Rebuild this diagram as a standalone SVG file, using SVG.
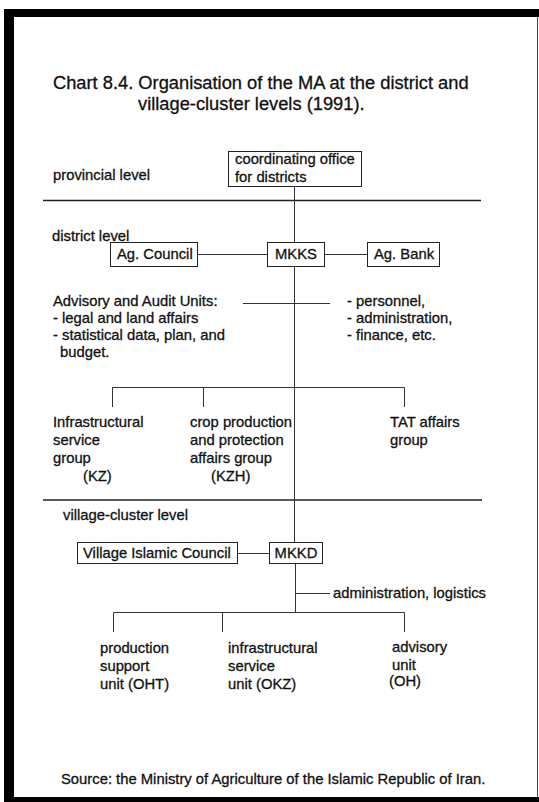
<svg xmlns="http://www.w3.org/2000/svg" width="539" height="802" viewBox="0 0 539 802">
  <style>
    text { font-family: "Liberation Sans", Arial, sans-serif; font-size: 14.8px; fill: #111; stroke: #111; stroke-width: 0.3; }
    .title { font-size: 18.3px; }
    .box { fill: #fff; stroke: #222; stroke-width: 1; }
    .conn { fill: none; stroke: #333; stroke-width: 1; }
    .level { fill: none; stroke: #222; stroke-width: 1.4; }
    .frame { fill: #000; }
  </style>

  <!-- page frame -->
  <rect x="0" y="0" width="539" height="802" fill="#fff"/>
  <g id="frame">
    <rect class="frame" x="4" y="9" width="535" height="8"/>
    <rect class="frame" x="4" y="9" width="10" height="793"/>
    <rect class="frame" x="14" y="797" width="525" height="5"/>
    <line x1="537.5" y1="17" x2="537.5" y2="797" stroke="#444" stroke-width="1"/>
  </g>

  <!-- heading -->
  <g id="title">
    <text class="title" x="53" y="89">Chart 8.4. Organisation of the MA at the district and</text>
    <text class="title" x="138" y="110">village-cluster levels (1991).</text>
  </g>

  <!-- level labels and separators -->
  <g id="levels">
    <text x="53" y="180">provincial level</text>
    <text x="52" y="241">district level</text>
    <text x="63" y="520">village-cluster level</text>
    <line class="level" x1="43" y1="200.5" x2="481" y2="200.5"/>
    <line class="level" x1="43" y1="500" x2="482" y2="500"/>
  </g>

  <!-- connectors -->
  <g id="connectors">
    <!-- coordinating office down to MKKS, on through to MKKD -->
    <line class="conn" x1="294.5" y1="187" x2="294.5" y2="242"/>
    <line class="conn" x1="294.5" y1="267" x2="294.5" y2="542"/>
    <!-- MKKS side links -->
    <line class="conn" x1="198" y1="254.5" x2="267" y2="254.5"/>
    <line class="conn" x1="325" y1="254.5" x2="367" y2="254.5"/>
    <!-- advisory and audit units -->
    <line class="conn" x1="243" y1="303.5" x2="330" y2="303.5"/>
    <!-- district groups branch -->
    <polyline class="conn" points="112.5,407 112.5,387.5 404.5,387.5 404.5,407"/>
    <line class="conn" x1="203.5" y1="387.5" x2="203.5" y2="407"/>
    <!-- village level -->
    <line class="conn" x1="238" y1="553.5" x2="269" y2="553.5"/>
    <line class="conn" x1="295.5" y1="564" x2="295.5" y2="612.5"/>
    <line class="conn" x1="295.5" y1="593.5" x2="330" y2="593.5"/>
    <polyline class="conn" points="113.5,632 113.5,612.5 404.5,612.5 404.5,632"/>
    <line class="conn" x1="222.5" y1="612.5" x2="222.5" y2="632"/>
  </g>

  <!-- provincial level -->
  <g id="coordinating-office">
    <rect class="box" x="228.5" y="151.5" width="133" height="35"/>
    <text x="235" y="164">coordinating office</text>
    <text x="235" y="182">for districts</text>
  </g>

  <!-- district level -->
  <g id="ag-council">
    <rect class="box" x="110.5" y="242.5" width="87" height="24"/>
    <text x="117" y="259">Ag. Council</text>
  </g>
  <g id="mkks">
    <rect class="box" x="267.5" y="242.5" width="57" height="24"/>
    <text x="296" y="259" text-anchor="middle">MKKS</text>
  </g>
  <g id="ag-bank">
    <rect class="box" x="367.5" y="242.5" width="72" height="24"/>
    <text x="374" y="259">Ag. Bank</text>
  </g>
  <g id="advisory-audit">
    <text x="53" y="306">Advisory and Audit Units:</text>
    <text x="53" y="323">- legal and land affairs</text>
    <text x="53" y="340">- statistical data, plan, and</text>
    <text x="60" y="357">budget.</text>
  </g>
  <g id="support-services">
    <text x="347" y="306">- personnel,</text>
    <text x="347" y="323">- administration,</text>
    <text x="347" y="340">- finance, etc.</text>
  </g>
  <g id="kz">
    <text x="53" y="427">Infrastructural</text>
    <text x="53" y="445">service</text>
    <text x="53" y="463">group</text>
    <text x="83" y="481">(KZ)</text>
  </g>
  <g id="kzh">
    <text x="190" y="427">crop production</text>
    <text x="190" y="445">and protection</text>
    <text x="190" y="463">affairs group</text>
    <text x="211" y="481">(KZH)</text>
  </g>
  <g id="tat">
    <text x="390" y="427">TAT affairs</text>
    <text x="390" y="445">group</text>
  </g>

  <!-- village-cluster level -->
  <g id="village-council">
    <rect class="box" x="77.5" y="542.5" width="160" height="21"/>
    <text x="83" y="558">Village Islamic Council</text>
  </g>
  <g id="mkkd">
    <rect class="box" x="269.5" y="542.5" width="53" height="21"/>
    <text x="296" y="558" text-anchor="middle">MKKD</text>
  </g>
  <g id="admin-logistics">
    <text x="333" y="598">administration, logistics</text>
  </g>
  <g id="oht">
    <text x="100" y="653">production</text>
    <text x="100" y="671">support</text>
    <text x="100" y="689">unit (OHT)</text>
  </g>
  <g id="okz">
    <text x="228" y="653">infrastructural</text>
    <text x="228" y="671">service</text>
    <text x="228" y="689">unit (OKZ)</text>
  </g>
  <g id="oh">
    <text x="392" y="652">advisory</text>
    <text x="392" y="670">unit</text>
    <text x="389" y="686">(OH)</text>
  </g>

  <!-- footnote -->
  <g id="source">
    <text x="61" y="784">Source: the Ministry of Agriculture of the Islamic Republic of Iran.</text>
  </g>
</svg>
